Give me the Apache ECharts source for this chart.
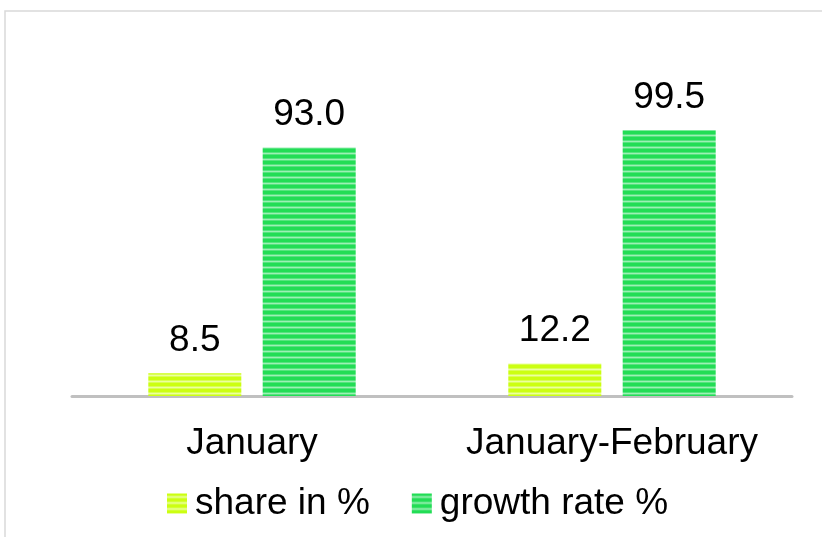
<!DOCTYPE html>
<html><head><meta charset="utf-8">
<script src="https://cdn.jsdelivr.net/npm/echarts@6/dist/echarts.min.js"></script>
<style>html,body{margin:0;padding:0;background:#fff}#c{width:822px;height:537px}</style>
</head><body><div id="c"></div>
<script>
const categories = ['January', 'January-February'];
const seriesNames = ['share in %', 'growth rate %'];
const shareValues = [8.5, 12.2];
const growthValues = [93.0, 99.5];

function stripe(base, mid, light) {
  const c = document.createElement('canvas');
  c.width = 4; c.height = 6;
  const g = c.getContext('2d');
  const rows = [base, base, mid, light, mid, base];
  rows.forEach((col, i) => { g.fillStyle = col; g.fillRect(0, i, 4, 1); });
  return { image: c, repeat: 'repeat' };
}
const yellowFill = stripe('#ccff11', '#d9ff55', '#ecff9e');
const greenFill = stripe('#22dd55', '#55e47e', '#9cf0b4');

const font = '"Liberation Sans", Arial, sans-serif';
const chart = echarts.init(document.getElementById('c'));
chart.setOption({
  animation: false,
  backgroundColor: '#fff',
  graphic: [{
    type: 'rect', shape: { x: 5, y: 11, width: 840, height: 560 },
    style: { fill: 'none', stroke: '#d9d9d9', lineWidth: 1.5 }, silent: true, z: -1
  }],
  grid: { left: 72, right: 30, top: 22, bottom: 141 },
  legend: {
    bottom: 10, left: 162, itemWidth: 20, itemHeight: 20, itemGap: 42,
    icon: 'rect',
    textStyle: { fontSize: 37, fontFamily: font, color: '#000', padding: [0, 0, 0, 3] },
    data: seriesNames
  },
  xAxis: {
    type: 'category', data: categories,
    axisLine: { lineStyle: { color: '#c0c0c0', width: 3 } },
    axisTick: { show: false },
    axisLabel: { interval: 0, fontSize: 37, fontFamily: font, color: '#000', margin: 29 }
  },
  yAxis: { type: 'value', min: 0, max: 140, show: false, splitLine: { show: false } },
  series: [
    {
      name: seriesNames[0], type: 'bar', data: shareValues,
      barWidth: 93, barGap: '23%',
      itemStyle: { color: yellowFill },
      label: { show: true, position: 'top', distance: 14, fontSize: 37, fontFamily: font, color: '#000', formatter: p => p.value.toFixed(1) }
    },
    {
      name: seriesNames[1], type: 'bar', data: growthValues,
      barWidth: 93, barGap: '23%',
      itemStyle: { color: greenFill },
      label: { show: true, position: 'top', distance: 14, fontSize: 37, fontFamily: font, color: '#000', formatter: p => p.value.toFixed(1) }
    }
  ]
});
</script></body></html>
